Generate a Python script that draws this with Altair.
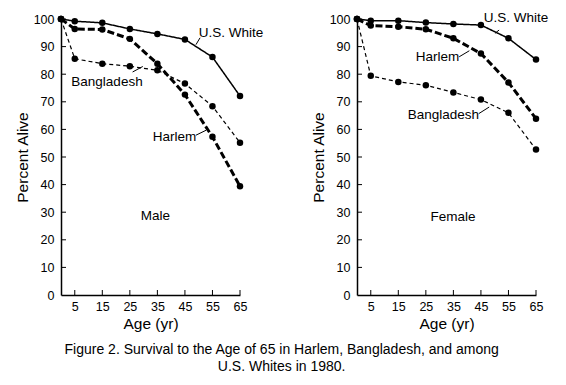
import altair as alt
import pandas as pd

ages = [0, 5, 15, 25, 35, 45, 55, 65]
male_white = [100, 99.2, 98.6, 96.4, 94.6, 92.6, 86.2, 72.1]
male_harlem = [100, 96.4, 96.2, 92.8, 83.8, 72.6, 57.3, 39.4]
male_bangladesh = [100, 85.6, 83.8, 82.9, 81.4, 76.6, 68.4, 55.2]
female_white = [100, 99.4, 99.4, 98.7, 98.2, 97.8, 93.0, 85.3]
female_harlem = [100, 97.6, 97.2, 96.3, 93.0, 87.5, 77.0, 63.9]
female_bangladesh = [100, 79.4, 77.2, 76.0, 73.4, 70.8, 66.0, 52.7]

series = ["U.S. White", "Harlem", "Bangladesh"]
x_ticks = [5, 15, 25, 35, 45, 55, 65]
y_ticks = [0, 10, 20, 30, 40, 50, 60, 70, 80, 90, 100]

# inline labels: text, age, percent
male_labels = ["U.S. White", "Bangladesh", "Harlem", "Male"]
male_label_x = [61.7, 16.7, 41.2, 34.3]
male_label_y = [95.1, 77.0, 57.1, 28.6]
female_labels = ["U.S. White", "Harlem", "Bangladesh", "Female"]
female_label_x = [57.7, 29.2, 31.4, 34.9]
female_label_y = [100.4, 86.2, 65.1, 28.4]

# leader lines (x, y) -> (x2, y2)
male_lead_x = [50.5, 26.0, 49.0]
male_lead_y = [93.2, 80.8, 57.9]
male_lead_x2 = [49.0, 29.7, 52.7]
male_lead_y2 = [90.7, 82.8, 59.7]
female_lead_x = [51.6, 37.1, 44.2]
female_lead_y = [96.0, 86.3, 65.7]
female_lead_x2 = [50.1, 40.8, 48.0]
female_lead_y2 = [94.8, 88.5, 68.1]

caption = ["Figure 2. Survival to the Age of 65 in Harlem, Bangladesh, and among",
           "U.S. Whites in 1980."]

FONT = "Liberation Sans"
W, H = 179, 276
STYLES = {"U.S. White": (1.5, [1, 0]), "Harlem": (3, [7, 3]), "Bangladesh": (1.2, [4, 3])}


def long_df(white, harlem, bangla):
    rows = []
    for name, vals in zip(series, [white, harlem, bangla]):
        for a, v in zip(ages, vals):
            rows.append({"series": name, "age": a, "pct": v})
    return pd.DataFrame(rows)


XS = alt.Scale(domain=[0, 65], nice=False, zero=True)
YS = alt.Scale(domain=[0, 100], nice=False)
AX = alt.Axis(values=x_ticks, title="Age (yr)", ticks=False, labelOverlap=False,
              labelFlush=False, labelPadding=5, titlePadding=4, grid=False)
AY = alt.Axis(values=y_ticks, title="Percent Alive", ticks=False, labelOverlap=False,
              labelFlush=False, labelPadding=7, titlePadding=3, grid=False)


def X(f):
    return alt.X(f, type="quantitative", scale=XS, axis=AX)


def Y(f):
    return alt.Y(f, type="quantitative", scale=YS, axis=AY)


def panel(lines, labels, lx, ly, lead):
    base = alt.Chart(lines)
    layers = []
    for name in series:
        sw, dash = STYLES[name]
        layers.append(base.transform_filter(alt.datum.series == name).mark_line(
            color="black", strokeWidth=sw, strokeDash=dash).encode(
            x=X("age"), y=Y("pct")))
    pts = base.mark_circle(color="black", opacity=1, size=42).encode(x=X("age"), y=Y("pct"))
    tdf = pd.DataFrame({"t": labels, "age": lx, "pct": ly})
    txt = alt.Chart(tdf).mark_text(font=FONT, fontSize=13.5, color="black").encode(
        x=X("age"), y=Y("pct"), text="t:N")
    ldf = pd.DataFrame(lead)
    leaders = alt.Chart(ldf).mark_rule(color="black", strokeWidth=1).encode(
        x=X("x"), y=Y("y"), x2="x2:Q", y2="y2:Q")
    yt = alt.Chart(pd.DataFrame({"v": y_ticks[1:]})).mark_rule(
        color="black", strokeWidth=1).encode(
        y=Y("v"), x=alt.value(0), x2=alt.value(5))
    xt = alt.Chart(pd.DataFrame({"v": x_ticks})).mark_rule(
        color="black", strokeWidth=1).encode(
        x=X("v"), y=alt.value(H), y2=alt.value(H - 5))
    return alt.layer(*layers, pts, txt, leaders, yt, xt).properties(width=W, height=H)


left = panel(long_df(male_white, male_harlem, male_bangladesh),
             male_labels, male_label_x, male_label_y,
             {"x": male_lead_x, "y": male_lead_y, "x2": male_lead_x2, "y2": male_lead_y2})
right = panel(long_df(female_white, female_harlem, female_bangladesh),
              female_labels, female_label_x, female_label_y,
              {"x": female_lead_x, "y": female_lead_y, "x2": female_lead_x2, "y2": female_lead_y2})

chart = alt.hconcat(left, right, spacing=117, bounds="flush").properties(
    title=alt.TitleParams(caption, orient="bottom", anchor="middle", font=FONT,
                          fontSize=14, fontWeight="normal", lineHeight=17,
                          offset=11, color="black"),
    padding={"left": 7, "top": 2, "right": 5, "bottom": 5},
).configure_view(stroke=None).configure_axis(
    domainColor="black", domainWidth=1.5, labelFont=FONT, labelFontSize=12.5,
    labelColor="black", titleFont=FONT, titleFontSize=15.5, titleFontWeight="normal",
    titleColor="black", labelOverlap=False,
)

chart.save("out.html", embed_options={"renderer": "svg", "actions": False})
